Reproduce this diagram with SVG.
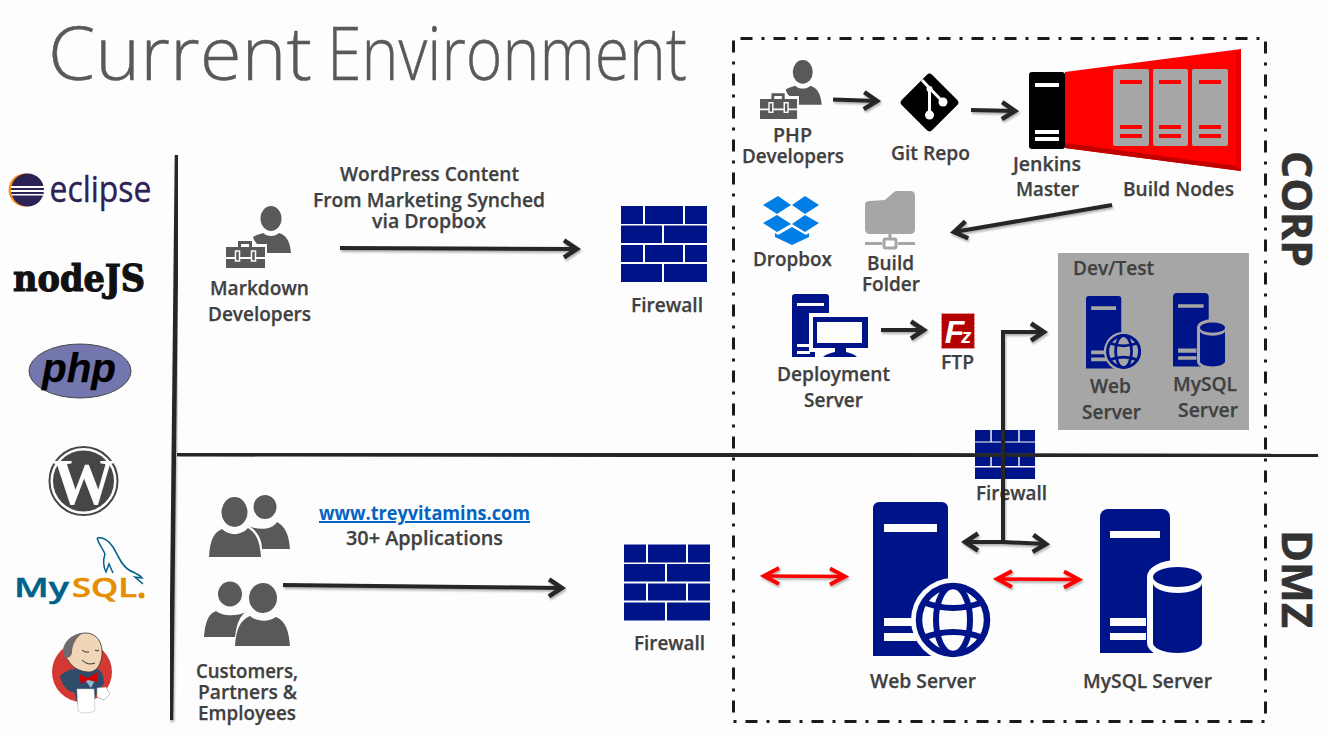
<svg xmlns="http://www.w3.org/2000/svg" width="1327" height="737" viewBox="0 0 1327 737">
<style>
text{font-family:"Open Sans","Noto Sans","Liberation Sans",sans-serif;font-weight:600;font-size:20px;fill:#404040;stroke:#404040;stroke-width:.25px;text-anchor:middle}
.title{font-weight:300;font-size:74px;fill:#595959;stroke:#595959;stroke-width:.4px;text-anchor:start}
.side{font-weight:700;font-size:42px;fill:#333;stroke:#333;stroke-width:.6px}
.navy{fill:#001489}
.ppl{fill:#595959}
.ln{fill:none;stroke:#262626;stroke-width:4.500}
.dk{fill:none;stroke:#262626;stroke-width:4;marker-end:url(#ah)}
.rd{fill:none;stroke:#f00;stroke-width:3.500;marker-end:url(#ahr);marker-start:url(#ahr)}
</style>
<defs>
<filter id="sh" x="-5%" y="-5%" width="110%" height="110%"><feDropShadow dx="1" dy="2" stdDeviation="1.200" flood-color="#000" flood-opacity=".3"/></filter>
<marker id="ah" markerUnits="userSpaceOnUse" markerWidth="24" markerHeight="24" viewBox="-20 -12 24 24" refX="0" refY="0" orient="auto-start-reverse"><path d="M-13 -8.500L0 0L-13 8.500" fill="none" stroke="#262626" stroke-width="4.500"/></marker>
<marker id="ahr" markerUnits="userSpaceOnUse" markerWidth="24" markerHeight="24" viewBox="-20 -12 24 24" refX="0" refY="0" orient="auto-start-reverse"><path d="M-15 -8L0 0L-15 8" fill="none" stroke="#f00" stroke-width="4"/></marker>
<g id="fw" class="navy">
<path d="M0 0h22v18H0zM24 0h38v18H24zM64 0h22v18H64zM0 19.500h41V37H0zM43 19.500h43V37H43zM0 39h22v17H0zM24 39h38v17H24zM64 39h22v17H64zM0 58h41v18H0zM43 58h43v18H43z"/>
</g>
<g id="globe">
<circle r="42" fill="currentColor"/>
<circle r="34" fill="currentColor" stroke="#001489" stroke-width="6.500"/>
<ellipse rx="17" ry="34" fill="none" stroke="#001489" stroke-width="6"/>
<path d="M-30 -18Q0 -6 30 -18M-30 18Q0 6 30 18" fill="none" stroke="#001489" stroke-width="6"/>
</g>
<g id="srvw">
<path class="navy" d="M0 154V6a6 6 0 0 1 6-6H69a6 6 0 0 1 6 6V154z"/>
<path fill="currentColor" d="M11 22h53v8H11zM11 116h50v8H11zM11 131h50v8H11z"/>
<use href="#globe" transform="translate(80 118)"/>
</g>
<g id="srvm">
<path class="navy" d="M0 144V8a8 8 0 0 1 8-8H62a8 8 0 0 1 8 8V144z"/>
<path fill="currentColor" d="M10 22h50v7H10zM10 109h36v8H10zM10 124h36v7H10z"/>
<path fill="currentColor" d="M47 68a30.500 17 0 0 1 61 0V134a30.500 16 0 0 1-61 0z"/>
<path class="navy" d="M53 74a24.500 10 0 0 0 49 0V134a24.500 10 0 0 1-49 0z"/>
<ellipse class="navy" cx="77.500" cy="68" rx="24.500" ry="10"/>
</g>
<g id="pdev">
<ellipse class="ppl" cx="45" cy="12.500" rx="10.500" ry="12.500"/>
<path class="ppl" d="M27 31C30 29 34 28 37 27C41 31 49 31 53 27C60 29 64 35 65 47H41V38H31C29 36 28 34 27 31z"/>
<path class="ppl" fill-rule="evenodd" d="M12 41V35H26V41H39V51H0V41zM15 41h8v-3h-8zM0 53h39v9H0z"/>
<rect x="9.500" y="45" width="4" height="10" fill="#595959" stroke="#fdfdfd" stroke-width="1.500"/>
<rect x="25.500" y="45" width="4" height="10" fill="#595959" stroke="#fdfdfd" stroke-width="1.500"/>
</g>
<g id="srvlines">
<path fill="#f00" d="M0 0h22v4H0zM0 45h22v4H0zM0 54h22v4H0z"/>
</g>
</defs>
<rect width="1327" height="737" fill="#fdfdfd"/>

<text class="title" y="80"><tspan x="48" textLength="264" lengthAdjust="spacingAndGlyphs">Current</tspan> <tspan x="327" textLength="360" lengthAdjust="spacingAndGlyphs">Environment</tspan></text>

<g id="logos">
<g id="logo-eclipse">
<circle cx="25" cy="190" r="16.500" fill="#f7941e"/>
<circle cx="27.500" cy="190" r="16.500" fill="#2c2255"/>
<path fill="#fff" d="M11 186h33v2H11zM11 190h33v2H11zM12 194h31v1.500H12z"/>
<text x="100.500" y="202" textLength="102" lengthAdjust="spacingAndGlyphs" style="font-weight:400;font-size:37px;fill:#2c2255;stroke:#2c2255;stroke-width:.4px">eclipse</text>
</g>
<text id="logo-node" x="79" y="291" textLength="132" lengthAdjust="spacingAndGlyphs" style="font-family:'DejaVu Serif',serif;font-weight:700;font-size:37px;fill:#111;stroke:#111;stroke-width:1.200px">nodeJS</text>
<g id="logo-php">
<ellipse cx="80" cy="371" rx="51" ry="27" fill="#7377ad" stroke="#4a4a4a" stroke-width="1"/>
<text x="79" y="382" textLength="74" lengthAdjust="spacingAndGlyphs" style="font-family:'Liberation Sans',sans-serif;font-weight:700;font-style:italic;font-size:40px;fill:#000;stroke:#000">php</text>
</g>
<g id="logo-wordpress">
<circle cx="83.500" cy="481" r="34" fill="none" stroke="#464646" stroke-width="2"/>
<circle cx="83.500" cy="481" r="30.500" fill="#464646"/>
<text x="83.500" y="504" textLength="62" lengthAdjust="spacingAndGlyphs" style="font-family:'Liberation Serif',serif;font-weight:700;font-size:66px;fill:#fdfdfd;stroke:none">W</text>
</g>
<g id="logo-mysql">
<path d="M97 538C103 537 109 541 113 547C119 557 121 565 129 570C134 573 139 574 142 578L135 577L143 584M97 538C99 545 103 549 105 554C103 560 103 566 106 572L109 564L113 573" fill="none" stroke="#00618a" stroke-width="1.500"/>
<text x="41.500" y="597" style="font-weight:600;font-size:27px;fill:#00618a;stroke:#00618a;stroke-width:.5px" textLength="55" lengthAdjust="spacingAndGlyphs">My</text>
<text x="104.500" y="597" style="font-weight:600;font-size:27px;fill:#e48e00;stroke:#e48e00;stroke-width:.5px" textLength="65" lengthAdjust="spacingAndGlyphs">SQL</text>
<circle cx="141.500" cy="595.500" r="3" fill="#e48e00"/>
</g>
<g id="logo-jenkins">
<circle cx="82" cy="672" r="30" fill="#d33833"/>
<path fill="#2f4d6b" d="M60 676C66 670 74 668 80 669L96 669C102 670 104 676 104 684L98 690L92 705H78L74 692C68 692 62 686 60 676z"/>
<path fill="#8fb8d0" d="M85 680h10l-4 8z"/>
<path fill="#f0d6b7" stroke="#333" stroke-width=".8" d="M66 654C64 642 74 633 86 633C97 633 103 643 102 655C101 664 97 672 89 672C81 672 72 668 68 660C66 659 65 656 66 654z"/>
<path fill="#6d6b6d" d="M64 656C60 645 70 634 83 633C76 637 72 645 72 653C71 657 66 660 64 656z"/>
<path fill="none" stroke="#333" stroke-width="1" d="M82 650q3 3 7 2M95 650q2 2 4 0M82 660q6 6 13 3"/>
<path fill="#d40000" d="M79 674L88 678L97 672V682L88 680L81 684z"/>
<path fill="#fff" stroke="#bbb" stroke-width=".6" d="M77 689H94L95 711C88 714 81 713 78 711z"/>
<path fill="#fff" stroke="#999" stroke-width=".6" d="M97 688L106 687L110 694L104 700L97 697z"/>
</g>
</g>

<g id="firewall-mid">
<use href="#fw" transform="translate(975 430) scale(.698 .645)"/>
<text x="1011.500" y="500" textLength="71" lengthAdjust="spacingAndGlyphs">Firewall</text>
</g>

<g id="rules">
<path class="ln" d="M177 155L171 720" filter="url(#sh)"/>
<path class="ln" d="M177 454L1318 456" filter="url(#sh)"/>
<rect id="dmz-boundary" x="733.500" y="38.500" width="532" height="683" fill="none" stroke="#1a1a1a" stroke-width="3" stroke-dasharray="12 9 3 9" stroke-dashoffset="26"/>
<text class="side" transform="translate(1282 209) rotate(90)" textLength="116" lengthAdjust="spacingAndGlyphs">CORP</text>
<text class="side" transform="translate(1282 579) rotate(90)" textLength="98" lengthAdjust="spacingAndGlyphs">DMZ</text>
</g>

<g id="devtest">
<rect x="1058" y="253" width="191" height="177" fill="#a6a6a6"/>
<text x="1113.500" y="275" textLength="81" lengthAdjust="spacingAndGlyphs">Dev/Test</text>
</g>

<g id="markdown-developers">
<use href="#pdev" transform="translate(226 206)"/>
<text x="259.500" y="295" textLength="99" lengthAdjust="spacingAndGlyphs">Markdown</text>
<text x="259.500" y="321" textLength="103" lengthAdjust="spacingAndGlyphs">Developers</text>
</g>
<g id="wordpress-note">
<text x="429.500" y="181" textLength="179" lengthAdjust="spacingAndGlyphs">WordPress Content</text>
<text x="429" y="207" textLength="232" lengthAdjust="spacingAndGlyphs">From Marketing Synched</text>
<text x="429" y="228" textLength="114" lengthAdjust="spacingAndGlyphs">via Dropbox</text>
</g>
<g id="firewall-corp">
<use href="#fw" transform="translate(621 206)"/>
<text x="667" y="312" textLength="72" lengthAdjust="spacingAndGlyphs">Firewall</text>
</g>
<g id="php-developers">
<use href="#pdev" transform="translate(760 60) scale(.95)"/>
<text x="792.500" y="142" textLength="39" lengthAdjust="spacingAndGlyphs">PHP</text>
<text x="793" y="163" textLength="102" lengthAdjust="spacingAndGlyphs">Developers</text>
</g>
<g id="git-repo">
<rect x="908" y="81" width="43" height="43" rx="4" transform="rotate(45 929.500 102.500)" fill="#000"/>
<path d="M922 80L929.500 88V115M929.500 88L943 102" fill="none" stroke="#fdfdfd" stroke-width="3"/>
<circle cx="929.500" cy="115" r="4.500" fill="#fdfdfd"/>
<circle cx="943" cy="102" r="4.500" fill="#fdfdfd"/>
<circle cx="929.500" cy="89" r="3" fill="#fdfdfd"/>
<text x="930.500" y="160" textLength="79" lengthAdjust="spacingAndGlyphs">Git Repo</text>
</g>
<g id="build-nodes">
<path fill="#f00" d="M1065 72L1241 49V171L1065 148z"/>
<path fill="#c00000" d="M1065 143L1236 166L1241 171L1065 148z"/>
<path fill="#e60000" d="M1236 53L1241 49V171L1236 166z"/>
<rect x="1113" y="69" width="36" height="77" rx="2" fill="#a6a6a6"/>
<rect x="1153" y="69" width="35" height="77" rx="2" fill="#a6a6a6"/>
<rect x="1192" y="69" width="36" height="77" rx="2" fill="#a6a6a6"/>
<use href="#srvlines" transform="translate(1120 80)"/>
<use href="#srvlines" transform="translate(1159 80)"/>
<use href="#srvlines" transform="translate(1199 80)"/>
<text x="1178.500" y="196" textLength="111" lengthAdjust="spacingAndGlyphs">Build Nodes</text>
</g>
<g id="jenkins-master">
<rect x="1029" y="72" width="36" height="77" rx="3" fill="#000"/>
<path fill="#fff" d="M1035 83h24v4h-24zM1035 130h24v4h-24zM1035 137h24v4h-24z"/>
<text x="1047" y="171" textLength="68" lengthAdjust="spacingAndGlyphs">Jenkins</text>
<text x="1047.500" y="196" textLength="63" lengthAdjust="spacingAndGlyphs">Master</text>
</g>
<g id="dropbox">
<path fill="#007ee5" d="M778 196L791 205L777 214L763 205zM805 196L819 205L805 214L792 205zM777 215L791 224L777 232L763 223zM805 215L819 223L805 232L792 224z"/>
<path fill="#007ee5" d="M775 233L778 235L792 227L806 235L809 233V237L792 245L775 237z"/>
<text x="792.500" y="266" textLength="79" lengthAdjust="spacingAndGlyphs">Dropbox</text>
</g>
<g id="build-folder">
<path fill="#a6a6a6" d="M865 205Q865 201 869 201L885 200L894 192Q895 191 897 191H910Q915 191 915 196V229Q915 234 910 234H870Q865 234 865 229z"/>
<path fill="none" stroke="#a6a6a6" stroke-width="3" d="M890 234V238M865 243.500H882M898 243.500H915"/>
<rect x="884" y="239" width="12" height="9" rx="1.500" fill="none" stroke="#a6a6a6" stroke-width="3"/>
<text x="890.500" y="270" textLength="47" lengthAdjust="spacingAndGlyphs">Build</text>
<text x="891" y="291" textLength="58" lengthAdjust="spacingAndGlyphs">Folder</text>
</g>
<g id="deployment-server">
<path class="navy" d="M792 357V297a3 3 0 0 1 3-3H826a3 3 0 0 1 3 3V357z"/>
<path fill="#fdfdfd" d="M797 303h27v3h-27zM797 344h13v3h-13zM797 351h13v3h-13z"/>
<path fill="#fdfdfd" d="M809 313h63v39h-63zM815 350h50v8h-50z"/>
<rect x="813" y="317" width="55" height="31" class="navy"/>
<rect x="817" y="322" width="45" height="21" fill="#fdfdfd"/>
<path class="navy" d="M835 347h11v5c4 1 8 2 11 5H823c3-3 8-4 12-5z"/>
<text x="833.500" y="381" textLength="113" lengthAdjust="spacingAndGlyphs">Deployment</text>
<text x="833.500" y="407" textLength="59" lengthAdjust="spacingAndGlyphs">Server</text>
</g>
<g id="ftp">
<rect x="941.500" y="313.500" width="33" height="35" fill="#b30000" stroke="#e8b0b0" stroke-width="1" stroke-dasharray="2 2"/>
<text x="958" y="343" style="font-family:'Liberation Sans',sans-serif;font-weight:700;font-style:italic;fill:#fff;stroke:none"><tspan style="font-size:32px">F</tspan><tspan style="font-size:20px" dx="-3">z</tspan></text>
<text x="957.500" y="369" textLength="33" lengthAdjust="spacingAndGlyphs">FTP</text>
</g>
<g id="devtest-web">
<use href="#srvw" transform="translate(1086 296) scale(.47)" color="#a6a6a6"/>
<text x="1110.500" y="393" textLength="41" lengthAdjust="spacingAndGlyphs">Web</text>
<text x="1111.500" y="419" textLength="59" lengthAdjust="spacingAndGlyphs">Server</text>
</g>
<g id="devtest-mysql">
<use href="#srvm" transform="translate(1173 293) scale(.51)" color="#a6a6a6"/>
<text x="1205" y="391" textLength="64" lengthAdjust="spacingAndGlyphs">MySQL</text>
<text x="1208" y="417" textLength="60" lengthAdjust="spacingAndGlyphs">Server</text>
</g>
<g id="site-note">
<text x="424.500" y="520" textLength="211" lengthAdjust="spacingAndGlyphs" style="font-weight:700;fill:#0563c1;stroke:none;text-decoration:underline">www.treyvitamins.com</text>
<text x="424.500" y="545" textLength="157" lengthAdjust="spacingAndGlyphs">30+ Applications</text>
</g>
<g id="customers">
<g class="ppl">
<ellipse cx="265" cy="507" rx="11.500" ry="12"/>
<path d="M248 525C254 530 272 531 277 522C285 526 289 535 290 549H262C262 538 256 530 248 525z"/>
<ellipse cx="234.500" cy="512" rx="13" ry="15"/>
<path d="M209 557C210 541 213 533 222 529C229 536 241 536 248 528C256 533 260 541 261 557z"/>
<ellipse cx="230" cy="594" rx="12" ry="12.500"/>
<path d="M204 637C205 623 208 614 216 611C222 616 236 617 246 612C240 616 237 622 235 637z"/>
<ellipse cx="263" cy="598" rx="14" ry="15"/>
<path d="M235 646C236 630 240 620 250 616C257 622 269 622 276 617C286 621 289 632 290 646z"/>
</g>
<text x="247" y="678" textLength="102" lengthAdjust="spacingAndGlyphs">Customers,</text>
<text x="247.500" y="699" textLength="99" lengthAdjust="spacingAndGlyphs">Partners &amp;</text>
<text x="247" y="720" textLength="98" lengthAdjust="spacingAndGlyphs">Employees</text>
</g>
<g id="firewall-dmz">
<use href="#fw" transform="translate(624 544.500)"/>
<text x="669.500" y="650" textLength="71" lengthAdjust="spacingAndGlyphs">Firewall</text>
</g>
<g id="web-server">
<use href="#srvw" transform="translate(873 502)" color="#fdfdfd"/>
<text x="923" y="688" textLength="106" lengthAdjust="spacingAndGlyphs">Web Server</text>
</g>
<g id="mysql-server">
<use href="#srvm" transform="translate(1100 509)" color="#fdfdfd"/>
<text x="1147.500" y="688" textLength="129" lengthAdjust="spacingAndGlyphs">MySQL Server</text>
</g>

<g id="connectors" filter="url(#sh)">
<path class="dk" d="M340 248L577 249"/>
<path class="dk" d="M283 585L562 588"/>
<path class="dk" d="M833 99.500L877 101"/>
<path class="dk" d="M971 110L1015 111"/>
<path class="dk" d="M1112 205L954 232"/>
<path class="dk" d="M881 330L924 330"/>
<path class="dk" d="M1003 542V332H1044"/>
<path class="dk" d="M1003 542L965 542"/>
<path class="dk" d="M1003 542L1046 544"/>
<path class="rd" d="M764 576L845 576.500"/>
<path class="rd" d="M997 579L1079 579.500"/>
</g>
</svg>
